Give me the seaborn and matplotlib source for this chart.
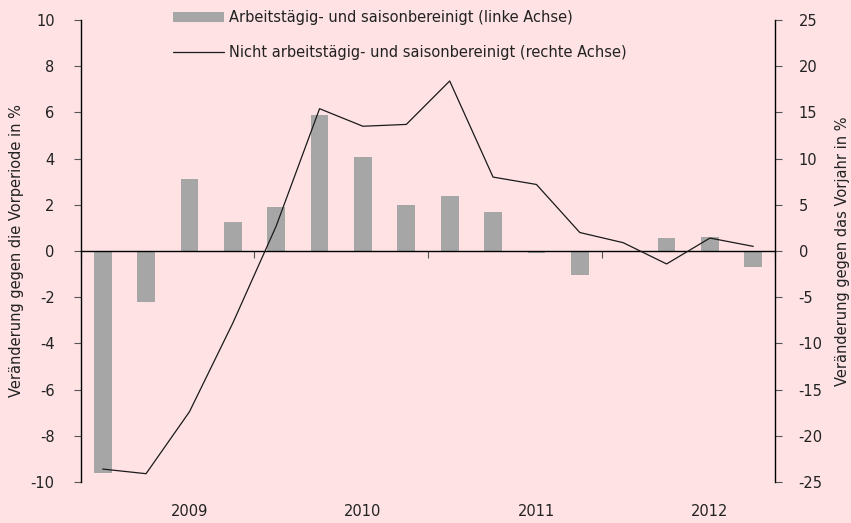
import numpy as np
import pandas as pd
import matplotlib
matplotlib.use("Agg")
import matplotlib.pyplot as plt
import seaborn as sns

# Quartale 2008 Q3 bis 2012 Q2
quartale = ["2008Q3", "2008Q4", "2009Q1", "2009Q2", "2009Q3", "2009Q4",
            "2010Q1", "2010Q2", "2010Q3", "2010Q4", "2011Q1", "2011Q2",
            "2011Q3", "2011Q4", "2012Q1", "2012Q2"]
# Veränderung gegen Vorperiode (linke Achse)
bereinigt = [-9.6, -2.2, 3.1, 1.25, 1.9, 5.9, 4.05, 2.0, 2.4, 1.7,
             -0.1, -1.05, 0.0, 0.55, 0.6, -0.7]
# Veränderung gegen Vorjahr (rechte Achse)
unbereinigt = [-23.6, -24.1, -17.4, -7.8, 2.7, 15.4, 13.5, 13.7, 18.4, 8.0,
               7.2, 2.0, 0.9, -1.4, 1.4, 0.5]
jahre = ["2009", "2010", "2011", "2012"]
jahr_pos = [2, 6, 10, 14]

bg = "#FEE2E4"
sns.set_theme(style="ticks", rc={"axes.facecolor": bg, "figure.facecolor": bg})
plt.rcParams["font.family"] = ["DejaVu Sans"]
plt.rcParams["axes.unicode_minus"] = False

df = pd.DataFrame({"quartal": quartale, "bereinigt": bereinigt,
                   "unbereinigt": unbereinigt, "pos": np.arange(len(quartale))})

fig = plt.figure(figsize=(8.51, 5.23), dpi=100)
ax = fig.add_axes([81 / 851, 1 - 482 / 523, 694 / 851, 462 / 523])

sns.barplot(data=df, x="quartal", y="bereinigt", color="#A6A6A6", width=0.41,
            saturation=1, linewidth=0, edgecolor="none", ax=ax,
            label="Arbeitstägig- und saisonbereinigt (linke Achse)")
ax.set_xlim(-0.5, 15.5)
ax.set_ylim(-10, 10)
ax.set_yticks(range(-10, 11, 2))
ax.set_ylabel("Veränderung gegen die Vorperiode in %", fontsize=10.5,
              color="#222222", labelpad=5)
ax.set_xlabel("")

# x-Achse bei 0 mit Trennstrichen zwischen den Jahren
ax.spines["bottom"].set_position(("data", 0))
ax.set_xticks([-0.5, 3.5, 7.5, 11.5, 15.5])
ax.set_xticklabels([])
ax.tick_params(axis="x", length=5, width=0.8, color="#555555")
ax.spines["top"].set_visible(False)
ax.spines["right"].set_visible(False)
for s in ["left", "bottom"]:
    ax.spines[s].set_color("black")
    ax.spines[s].set_linewidth(1.0)
ax.tick_params(axis="y", length=5, width=0.8, color="#555555",
               labelsize=10.5, labelcolor="#222222", pad=14)

sec = ax.secondary_xaxis("bottom")
sec.spines["bottom"].set_visible(False)
sec.set_xticks(jahr_pos)
sec.set_xticklabels(jahre)
sec.tick_params(length=0, pad=16, labelsize=10.5, labelcolor="#222222")

ax2 = ax.twinx()
sns.lineplot(data=df, x="pos", y="unbereinigt", color="#1a1a1a", linewidth=0.9,
             ax=ax2, label="Nicht arbeitstägig- und saisonbereinigt (rechte Achse)")
ax2.set_ylim(-25, 25)
ax2.set_yticks(range(-25, 26, 5))
ax2.set_ylabel("Veränderung gegen das Vorjahr in %", fontsize=10.5,
               color="#222222", labelpad=9)
ax2.set_xlim(-0.5, 15.5)
for s in ["top", "bottom", "left"]:
    ax2.spines[s].set_visible(False)
ax2.spines["right"].set_color("black")
ax2.spines["right"].set_linewidth(1.0)
ax2.tick_params(axis="y", length=5, width=0.8, color="#555555",
                labelsize=10.5, labelcolor="#222222", pad=12)

h1, l1 = ax.get_legend_handles_labels()
h2, l2 = ax2.get_legend_handles_labels()
if ax.get_legend():
    ax.get_legend().remove()
if ax2.get_legend():
    ax2.get_legend().remove()
ax2.legend(h1 + h2, l1 + l2, loc="upper left", bbox_to_anchor=(0.113, 1.05),
           frameon=False, fontsize=10.5, handlelength=3.5, labelspacing=1.4,
           handletextpad=0.4, labelcolor="#222222")

fig.savefig("out.png", dpi=100, facecolor=bg)
